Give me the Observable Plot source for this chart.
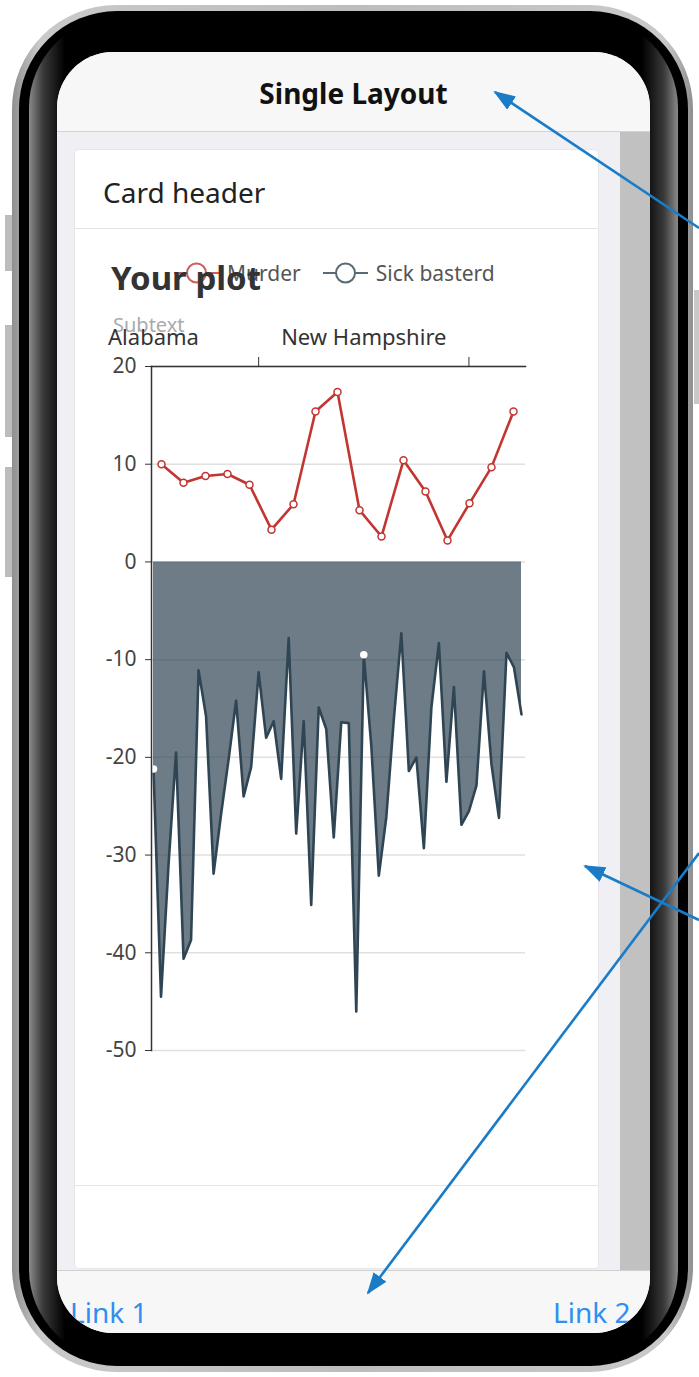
<!DOCTYPE html>
<html><head><meta charset="utf-8">
<script src="https://cdn.jsdelivr.net/npm/d3@7"></script>
<script src="https://cdn.jsdelivr.net/npm/@observablehq/plot@0.6"></script>
<style>
html,body{margin:0;padding:0;}
body{width:699px;height:1377px;position:relative;overflow:hidden;background:#fff;font-family:"Noto Sans",sans-serif;}
.abs{position:absolute;}
.t{position:absolute;line-height:1;white-space:nowrap;}
</style></head><body>
<script>
// ---------------- data ----------------
const states = ["Alabama","Alaska","Arizona","Arkansas","California","Colorado","Connecticut","Delaware","Florida","Georgia","Hawaii","Idaho","Illinois","Indiana","Iowa","Kansas","Kentucky","Louisiana","Maine","Maryland","Massachusetts","Michigan","Minnesota","Mississippi","Missouri","Montana","Nebraska","Nevada","New Hampshire","New Jersey","New Mexico","New York","North Carolina","North Dakota","Ohio","Oklahoma","Oregon","Pennsylvania","Rhode Island","South Carolina","South Dakota","Tennessee","Texas","Utah","Vermont","Virginia","Washington","West Virginia","Wisconsin","Wyoming"];
const sickValues = [-21.2,-44.5,-31.0,-19.5,-40.6,-38.7,-11.1,-15.8,-31.9,-25.8,-20.2,-14.2,-24.0,-21.0,-11.3,-18.0,-16.3,-22.2,-7.8,-27.8,-16.3,-35.1,-14.9,-17.1,-28.2,-16.4,-16.5,-46.0,-9.5,-18.8,-32.1,-26.1,-16.1,-7.3,-21.4,-20.0,-29.3,-14.9,-8.3,-22.5,-12.8,-26.9,-25.5,-22.9,-11.2,-20.7,-26.2,-9.3,-10.8,-15.6];
const murderStates = ["Alaska","Arizona","Arkansas","California","Colorado","Connecticut","Delaware","Florida","Georgia","Hawaii","Idaho","Illinois","Indiana","Iowa","Kansas","Kentucky","Louisiana"];
const murderValues = [10.0,8.1,8.8,9.0,7.9,3.3,5.9,15.4,17.4,5.3,2.6,10.4,7.2,2.2,6.0,9.7,15.4];
const yTicks = [20,10,0,-10,-20,-30,-40,-50];
const xLabelStates = ["Alabama","New Hampshire"];
const xTickStates = ["Iowa","Texas"];
const seriesNames = ["Murder","Sick basterd"];
const seriesColors = ["#c23531","#2f4554"];
const chartTitle = "Your plot";
const chartSubtitle = "Subtext";
</script>

<!-- side buttons -->
<div class="abs" style="left:5px;top:215px;width:7px;height:56px;background:#bcbcbc"></div>
<div class="abs" style="left:5px;top:325px;width:7px;height:112px;background:#bcbcbc"></div>
<div class="abs" style="left:5px;top:467px;width:7px;height:110px;background:#bcbcbc"></div>
<div class="abs" style="left:694px;top:290px;width:5px;height:114px;background:#c8c8c8"></div>
<!-- phone frame -->
<div class="abs" style="left:12px;top:5px;width:681px;height:1367px;border-radius:104px;background:linear-gradient(to right,#8f8f8f,#c9c9c9 4%,#bdbdbd 50%,#c9c9c9 96%,#8f8f8f)"></div>
<div class="abs" style="left:19px;top:11px;width:669px;height:1355px;border-radius:98px;background:#000"></div>
<div class="abs" style="left:29px;top:16px;width:649px;height:1345px;border-radius:92px;background:linear-gradient(to right,#8a8a8a 0px,#3a3a3a 14px,#141414 28px,#000 36px,#000 calc(100% - 36px),#141414 calc(100% - 28px),#3a3a3a calc(100% - 14px),#8a8a8a 100%)"></div>

<!-- screen -->
<div id="screen" class="abs" style="left:57px;top:52px;width:593px;height:1281px;border-radius:56px;overflow:hidden;background:#efeff4">
  <div class="abs" style="left:0;top:0;width:593px;height:79px;background:#f7f7f7;border-bottom:1px solid #d4d4d4"></div>
  <div class="t" style="left:0;width:593px;text-align:center;font-size:28px;font-weight:700;color:#111;top:27px">Single Layout</div>
  <div class="abs" style="left:563px;top:80px;width:30px;height:1138px;background:#c1c1c1"></div>
  <div id="card" class="abs" style="left:18px;top:98px;width:523px;height:1118px;background:#fff;border-radius:4px;box-shadow:0 0 0 1px #e6e6ea">
    <div class="abs" style="left:0;top:0;width:523px;height:78px;border-bottom:1px solid #e5e5e5"></div>
    <div class="t" style="left:28px;top:28px;font-size:28px;color:#222">Card header</div>
    <div class="abs" style="left:0;top:1035px;width:523px;height:0;border-top:1px solid #e5e5e5"></div>
    <div id="chart" class="abs" style="left:0;top:79px;width:523px;height:956px"></div>
  </div>
  <div class="abs" style="left:0;top:1218px;width:593px;height:63px;background:#f7f7f7;border-top:1px solid #d0d0d0"></div>
  <div class="t" style="left:13px;top:1246px;font-size:28px;color:#2f8ef0">Link 1</div>
  <div class="t" style="left:496px;top:1246px;font-size:28px;color:#2f8ef0">Link 2</div>
</div>

<svg class="abs" style="left:0;top:0;pointer-events:none" width="699" height="1377">
  <defs>
    <marker id="ah" markerUnits="userSpaceOnUse" markerWidth="22" markerHeight="16" refX="20" refY="8" orient="auto">
      <path d="M0,0 L22,8 L0,16 z" fill="#1a7cc6"/>
    </marker>
  </defs>
  <g stroke="#1a7cc6" stroke-width="2.6" fill="none">
    <line x1="699" y1="228" x2="495" y2="92" marker-end="url(#ah)"/>
    <line x1="699" y1="920" x2="585" y2="866" marker-end="url(#ah)"/>
    <line x1="699" y1="853" x2="368" y2="1293" marker-end="url(#ah)"/>
  </g>
</svg>

<script>
const W = 523, H = 956;
const margins = {marginTop:137, marginRight:73, marginBottom:135, marginLeft:76};
const font = {fontFamily:"'Noto Sans', sans-serif", fontSize:"21px", color:"#333", background:"transparent", overflow:"visible"};
const sickData = states.map((s,i)=>({state:s, idx:i, value:sickValues[i]}));
const murderData = murderStates.map((s,i)=>({state:s, value:murderValues[i]}));
const labelIdx = xLabelStates.map(s=>states.indexOf(s));
const tickIdx = xTickStates.map(s=>states.indexOf(s));

const main = Plot.plot({
  width:W, height:H, ...margins, style:font,
  x:{type:"linear", domain:[0, states.length-1], range:[78,446], label:null},
  y:{domain:[-50,20], label:null},
  marks:[
    Plot.gridY(yTicks, {stroke:"#e0e0e0", strokeOpacity:1, strokeWidth:1.5}),
    Plot.areaY(sickData, {x:"idx", y:"value", fill:seriesColors[1], fillOpacity:0.7}),
    Plot.lineY(sickData, {x:"idx", y:"value", stroke:seriesColors[1], strokeWidth:2.6}),
    Plot.dot(sickData.filter(d=>xLabelStates.includes(d.state)), {x:"idx", y:"value", r:3, fill:"#fff", stroke:"#fff"}),
    Plot.frame({anchor:"top", stroke:"#333", strokeWidth:1.5}),
    Plot.frame({anchor:"left", stroke:"#333", strokeWidth:1.5}),
    Plot.axisY(yTicks, {tickSize:6, tickPadding:9, stroke:"#333", fill:"#444", tickFormat:d=>String(d)}),
    Plot.axisX(labelIdx, {anchor:"top", tickSize:0, tickPadding:22, fill:"#333", fontSize:22, tickFormat:i=>states[i]}),
    Plot.axisX(tickIdx, {anchor:"top", tickSize:10, tickFormat:()=>"", stroke:"#333"})
  ]
});
main.style.position = "absolute"; main.style.left = "0"; main.style.top = "0";

const over = Plot.plot({
  width:W, height:H, ...margins, style:font,
  x:{type:"point", domain:murderStates, range:[85,438], padding:0, axis:null},
  y:{domain:[-50,20], axis:null},
  marks:[
    Plot.lineY(murderData, {x:"state", y:"value", stroke:seriesColors[0], strokeWidth:2.6}),
    Plot.dot(murderData, {x:"state", y:"value", r:3.5, fill:"#fff", stroke:seriesColors[0], strokeWidth:1.5})
  ]
});
over.style.position = "absolute"; over.style.left = "0"; over.style.top = "0";

const chart = document.getElementById("chart");
chart.appendChild(main);
chart.appendChild(over);

// legend
const leg = document.createElement("div");
leg.style.cssText = "position:absolute;left:99px;top:32px;display:flex;gap:22px;align-items:center;height:24px;";
seriesNames.forEach((name,i)=>{
  const item = document.createElement("div");
  item.style.cssText = "display:flex;align-items:center;gap:8px;font-size:21px;color:#555;line-height:1;";
  item.innerHTML = `<svg width="45" height="24"><line x1="0" y1="12" x2="45" y2="12" stroke="${seriesColors[i]}" stroke-width="2"/><circle cx="22.5" cy="12" r="9.5" fill="#fff" stroke="${seriesColors[i]}" stroke-width="2"/></svg><span>${name}</span>`;
  item.querySelector("svg").style.opacity = "0.8";
  leg.appendChild(item);
});
chart.appendChild(leg);

const title = document.createElement("div");
title.className = "t";
title.style.cssText += "left:36px;top:32px;font-size:33px;font-weight:700;color:#333;";
title.textContent = chartTitle;
chart.appendChild(title);

const sub = document.createElement("div");
sub.className = "t";
sub.style.cssText += "left:38px;top:86px;font-size:20px;color:#aaa;";
sub.textContent = chartSubtitle;
chart.insertBefore(sub, main);
</script>
</body></html>
